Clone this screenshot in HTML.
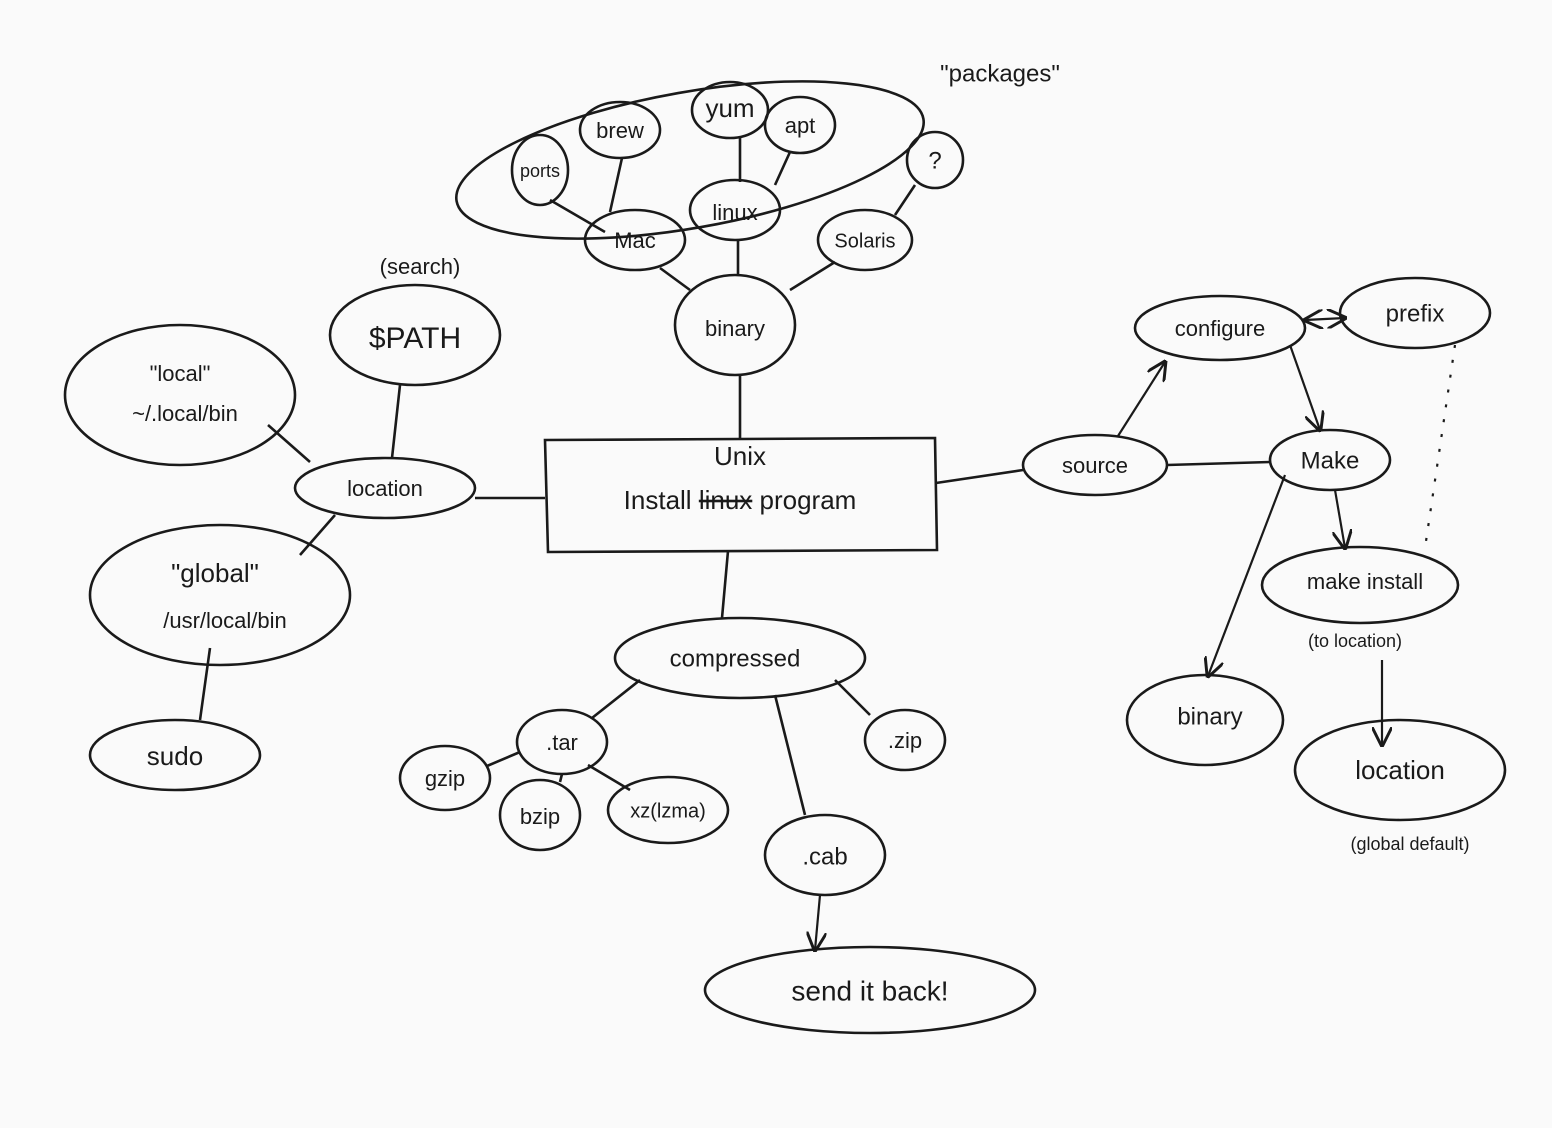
<!DOCTYPE html>
<html><head><meta charset="utf-8"><style>
html,body{margin:0;padding:0;background:#fafafa;}
svg{display:block}
text{font-family:"Liberation Sans",sans-serif;fill:#1a1a1a;text-anchor:middle;dominant-baseline:middle}
</style></head><body>
<svg width="1552" height="1128" viewBox="0 0 1552 1128" xmlns="http://www.w3.org/2000/svg">
<defs><marker id="a" viewBox="0 0 10 10" refX="9" refY="5" markerWidth="9" markerHeight="9" orient="auto-start-reverse"><path d="M0,0 L10,5 L0,10" fill="none" stroke="#1a1a1a" stroke-width="1.5"/></marker></defs>
<rect width="1552" height="1128" fill="#fafafa"/>
<g fill="none" stroke="#1a1a1a" stroke-width="2.6">
<ellipse cx="690" cy="160" rx="237" ry="68" transform="rotate(-10 690 160)"/>
<ellipse cx="540" cy="170" rx="28" ry="35"/>
<ellipse cx="620" cy="130" rx="40" ry="28"/>
<ellipse cx="730" cy="110" rx="38" ry="28"/>
<ellipse cx="800" cy="125" rx="35" ry="28"/>
<ellipse cx="935" cy="160" rx="28" ry="28"/>
<ellipse cx="635" cy="240" rx="50" ry="30"/>
<ellipse cx="735" cy="210" rx="45" ry="30"/>
<ellipse cx="865" cy="240" rx="47" ry="30"/>
<ellipse cx="735" cy="325" rx="60" ry="50"/>
<ellipse cx="415" cy="335" rx="85" ry="50"/>
<ellipse cx="180" cy="395" rx="115" ry="70"/>
<ellipse cx="385" cy="488" rx="90" ry="30"/>
<ellipse cx="220" cy="595" rx="130" ry="70"/>
<ellipse cx="175" cy="755" rx="85" ry="35"/>
<path d="M545,440 L935,438 L937,550 L548,552 Z"/>
<ellipse cx="740" cy="658" rx="125" ry="40"/>
<ellipse cx="562" cy="742" rx="45" ry="32"/>
<ellipse cx="445" cy="778" rx="45" ry="32"/>
<ellipse cx="540" cy="815" rx="40" ry="35"/>
<ellipse cx="668" cy="810" rx="60" ry="33"/>
<ellipse cx="905" cy="740" rx="40" ry="30"/>
<ellipse cx="825" cy="855" rx="60" ry="40"/>
<ellipse cx="870" cy="990" rx="165" ry="43"/>
<ellipse cx="1220" cy="328" rx="85" ry="32"/>
<ellipse cx="1415" cy="313" rx="75" ry="35"/>
<ellipse cx="1095" cy="465" rx="72" ry="30"/>
<ellipse cx="1330" cy="460" rx="60" ry="30"/>
<ellipse cx="1360" cy="585" rx="98" ry="38"/>
<ellipse cx="1205" cy="720" rx="78" ry="45"/>
<ellipse cx="1400" cy="770" rx="105" ry="50"/>
<path d="M550,200 L605,232 M622,158 L610,212 M740,138 L740,182 M790,152 L775,185 M915,185 L895,215 M660,268 L690,290 M738,240 L738,276 M835,262 L790,290 M740,375 L740,438"/>
<path d="M400,385 L392,458 M268,425 L310,462 M335,515 L300,555 M475,498 L545,498 M210,648 L200,720"/>
<path d="M728,551 L722,618 M640,680 L592,718 M835,680 L870,715 M775,695 L805,815 M520,752 L487,766 M562,774 L560,782 M588,765 L630,790"/>
<path d="M936,483 L1023,470 M1167,465 L1270,462"/>
</g>
<g fill="none" stroke="#1a1a1a" stroke-width="2.2" marker-end="url(#a)">
<path d="M820,895 L815,950"/>
<path d="M1118,436 L1165,362"/>
<path d="M1305,320 L1345,318" marker-start="url(#a)"/>
<path d="M1290,345 L1320,430"/>
<path d="M1335,490 L1345,548"/>
<path d="M1285,475 L1208,676"/>
<path d="M1382,660 L1382,745"/>
</g>
<path d="M1455,345 L1425,548" stroke="#1a1a1a" stroke-width="2.2" stroke-dasharray="3,12" fill="none"/>
<g font-size="22">
<text x="1000" y="75" font-size="24">"packages"</text>
<text x="540" y="172" font-size="18">ports</text>
<text x="620" y="132">brew</text>
<text x="730" y="110" font-size="26">yum</text>
<text x="800" y="127">apt</text>
<text x="935" y="162" font-size="24">?</text>
<text x="635" y="242">Mac</text>
<text x="735" y="214">linux</text>
<text x="865" y="242" font-size="20">Solaris</text>
<text x="735" y="330">binary</text>
<text x="420" y="268">(search)</text>
<text x="415" y="340" font-size="30">$PATH</text>
<text x="180" y="375">"local"</text>
<text x="185" y="415">~/.local/bin</text>
<text x="385" y="490">location</text>
<text x="215" y="575" font-size="26">"global"</text>
<text x="225" y="622">/usr/local/bin</text>
<text x="175" y="758" font-size="26">sudo</text>
<text x="740" y="458" font-size="26">Unix</text>
<text x="740" y="502" font-size="26">Install <tspan text-decoration="line-through">linux</tspan> program</text>
<text x="735" y="660" font-size="24">compressed</text>
<text x="562" y="744">.tar</text>
<text x="445" y="780">gzip</text>
<text x="540" y="818">bzip</text>
<text x="668" y="812" font-size="20">xz(lzma)</text>
<text x="905" y="742">.zip</text>
<text x="825" y="858" font-size="24">.cab</text>
<text x="870" y="993" font-size="28">send it back!</text>
<text x="1220" y="330">configure</text>
<text x="1415" y="315" font-size="24">prefix</text>
<text x="1095" y="467">source</text>
<text x="1330" y="462" font-size="24">Make</text>
<text x="1365" y="583">make install</text>
<text x="1355" y="642" font-size="18">(to location)</text>
<text x="1210" y="718" font-size="24">binary</text>
<text x="1400" y="772" font-size="26">location</text>
<text x="1410" y="845" font-size="18">(global default)</text>
</g>
</svg>
</body></html>
